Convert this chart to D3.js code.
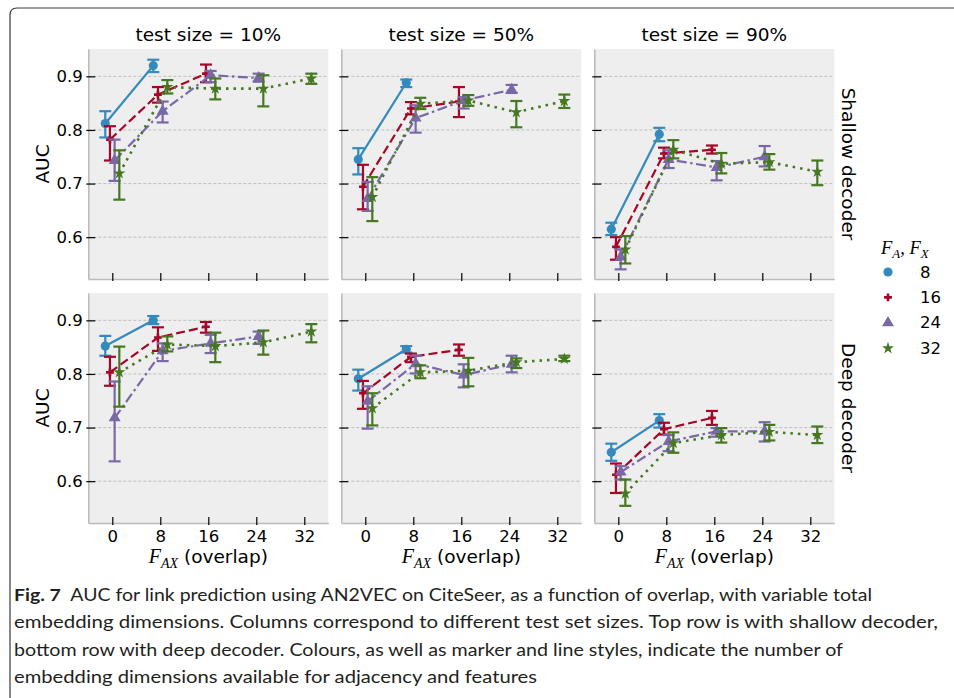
<!DOCTYPE html>
<html><head><meta charset="utf-8">
<script src="https://cdn.jsdelivr.net/npm/d3@7"></script>
<style>
body{margin:0;background:#fff;}
svg{display:block;}
</style>
</head><body>
<svg id="chart" width="954" height="698"></svg>
<script>
// ---------------- data ----------------
const overlaps = [0, 8, 16, 24, 32];
const dims = ["8", "16", "24", "32"];
const colTitles = ["test size = 10%", "test size = 50%", "test size = 90%"];
const rowTitles = ["Shallow decoder", "Deep decoder"];
const yTicks = [0.6, 0.7, 0.8, 0.9];

// one inner array per embedding dimension (8,16,24,32), values at overlaps 0,8,16,...
const shallow10Mean = [[0.812,0.920],[0.782,0.866,0.905],[0.743,0.835,0.902,0.897],[0.719,0.880,0.877,0.877,0.896]];
const shallow10Lo   = [[0.786,0.908],[0.743,0.851,0.889],[0.705,0.814,0.889,0.890],[0.670,0.868,0.857,0.844,0.886]];
const shallow10Hi   = [[0.835,0.931],[0.807,0.880,0.922],[0.782,0.853,0.910,0.905],[0.762,0.893,0.896,0.902,0.905]];

const shallow50Mean = [[0.745,0.888],[0.694,0.840,0.853],[0.672,0.822,0.855,0.875],[0.675,0.849,0.855,0.833,0.854]];
const shallow50Lo   = [[0.717,0.880],[0.652,0.829,0.824],[0.649,0.795,0.840,0.869],[0.630,0.839,0.845,0.805,0.841]];
const shallow50Hi   = [[0.766,0.894],[0.735,0.852,0.880],[0.703,0.846,0.861,0.884],[0.712,0.860,0.865,0.854,0.866]];

const shallow90Mean = [[0.615,0.792],[0.582,0.756,0.763],[0.563,0.745,0.730,0.750],[0.577,0.763,0.737,0.740,0.722]];
const shallow90Lo   = [[0.604,0.779],[0.558,0.747,0.756],[0.540,0.729,0.706,0.732],[0.551,0.747,0.719,0.726,0.697]];
const shallow90Hi   = [[0.627,0.804],[0.600,0.767,0.771],[0.577,0.762,0.742,0.770],[0.602,0.781,0.757,0.755,0.743]];

const deep10Mean = [[0.852,0.900],[0.803,0.868,0.888],[0.718,0.843,0.857,0.870],[0.803,0.855,0.852,0.859,0.879]];
const deep10Lo   = [[0.834,0.893],[0.778,0.843,0.877],[0.637,0.824,0.839,0.856],[0.739,0.842,0.822,0.836,0.859]];
const deep10Hi   = [[0.871,0.908],[0.832,0.887,0.897],[0.786,0.857,0.873,0.879],[0.851,0.870,0.877,0.881,0.893]];

const deep50Mean = [[0.791,0.846],[0.764,0.832,0.845],[0.749,0.819,0.798,0.818],[0.736,0.803,0.806,0.822,0.828]];
const deep50Lo   = [[0.769,0.840],[0.735,0.822,0.834],[0.698,0.801,0.775,0.803],[0.704,0.792,0.777,0.811,0.824]];
const deep50Hi   = [[0.808,0.852],[0.787,0.838,0.855],[0.777,0.834,0.818,0.834],[0.764,0.816,0.830,0.829,0.834]];

const deep90Mean = [[0.654,0.713],[0.612,0.697,0.718],[0.617,0.674,0.693,0.693],[0.577,0.671,0.686,0.692,0.686]];
const deep90Lo   = [[0.638,0.700],[0.578,0.687,0.705],[0.603,0.656,0.683,0.674],[0.554,0.653,0.672,0.676,0.671]];
const deep90Hi   = [[0.670,0.725],[0.633,0.709,0.731],[0.628,0.686,0.699,0.710],[0.603,0.691,0.699,0.705,0.702]];

const captionBold = "Fig. 7";
const captionLines = [
  "AUC for link prediction using AN2VEC on CiteSeer, as a function of overlap, with variable total",
  "embedding dimensions. Columns correspond to different test set sizes. Top row is with shallow decoder,",
  "bottom row with deep decoder. Colours, as well as marker and line styles, indicate the number of",
  "embedding dimensions available for adjacency and features"
];

// ---------------- styling ----------------
const colors = ["#348ABD", "#A60628", "#7A68A6", "#467821"];
const dashes = [null, "9,4", "10,3.5,2.5,3.5", "2.5,5"];
const symbols = [d3.symbolCircle, d3.symbolCross, d3.symbolTriangle, d3.symbolStar];
const symSizes = [66, 34, 62, 46];
const dodge = [-1.17, -0.39, 0.39, 1.17];

const panels = [
  [[shallow10Mean, shallow10Lo, shallow10Hi], [shallow50Mean, shallow50Lo, shallow50Hi], [shallow90Mean, shallow90Lo, shallow90Hi]],
  [[deep10Mean, deep10Lo, deep10Hi], [deep50Mean, deep50Lo, deep50Hi], [deep90Mean, deep90Lo, deep90Hi]]
];

const svg = d3.select("#chart");
const FONT = "DejaVu Sans";
const MATH = "Liberation Serif";
const colX = [88.3, 341.3, 594.3];
const rowY = [49, 293];
const PW = 240, PH = 230;

// frame
svg.append("path")
  .attr("d", "M10,705 L10,15 Q10,8 17,8 L965,8")
  .attr("fill", "none").attr("stroke", "#3a3a3a").attr("stroke-width", 1.2);

rowY.forEach((y0, r) => {
  colX.forEach((x0, c) => {
    const [meanArr, loArr, hiArr] = panels[r][c];
    const x = d3.scaleLinear().domain([-4, 36]).range([x0, x0 + PW]);
    const y = d3.scaleLinear().domain([0.522, 0.951]).range([y0 + PH, y0]);
    const g = svg.append("g");
    g.append("rect").attr("x", x0).attr("y", y0).attr("width", PW).attr("height", PH).attr("fill", "#eeeeee");
    // grid
    g.selectAll(".grid").data(yTicks).join("line")
      .attr("x1", x0).attr("x2", x0 + PW)
      .attr("y1", d => y(d)).attr("y2", d => y(d))
      .attr("stroke", "#b2b2b2").attr("stroke-width", 0.8).attr("stroke-dasharray", "3,2");

    // axes
    const xa = d3.axisBottom(x).tickValues(overlaps).tickSizeInner(-6).tickSizeOuter(0).tickPadding(7)
      .tickFormat(r === 1 ? d3.format("d") : () => "");
    const gx = g.append("g").attr("transform", `translate(0,${y0 + PH})`).call(xa);
    const ya = d3.axisLeft(y).tickValues(yTicks).tickSizeInner(-7).tickSizeOuter(0).tickPadding(5.5)
      .tickFormat(c === 0 ? d3.format(".1f") : () => "");
    const gy = g.append("g").attr("transform", `translate(${x0},0)`).call(ya);
    [gx, gy].forEach(ax => {
      ax.select(".domain").attr("stroke", "#bcbcbc").attr("stroke-width", 1.6);
      ax.selectAll(".tick line").attr("stroke", "#000").attr("stroke-width", 1.2);
      ax.selectAll("text").attr("font-family", FONT).attr("font-size", 16.5).attr("fill", "#000");
    });
    gy.selectAll(".tick line").attr("x1", -2);
    gx.selectAll(".tick line").attr("y1", 2);

    // series
    meanArr.forEach((vals, s) => {
      const pts = vals.map((v, i) => ({ px: x(overlaps[i] + dodge[s]), m: v, lo: loArr[s][i], hi: hiArr[s][i] }));
      const sg = g.append("g");
      const line = d3.line().x(d => d.px).y(d => y(d.m));
      const lp = sg.append("path").attr("d", line(pts)).attr("fill", "none")
        .attr("stroke", colors[s]).attr("stroke-width", 2.2);
      if (dashes[s]) lp.attr("stroke-dasharray", dashes[s]);
      if (s === 3) lp.attr("stroke-linecap", "butt").attr("stroke-width", 2.6);
      pts.forEach(p => {
        sg.append("line").attr("x1", p.px).attr("x2", p.px).attr("y1", y(p.lo)).attr("y2", y(p.hi))
          .attr("stroke", colors[s]).attr("stroke-width", 2.2);
        [p.lo, p.hi].forEach(v => {
          sg.append("line").attr("x1", p.px - 6).attr("x2", p.px + 6).attr("y1", y(v)).attr("y2", y(v))
            .attr("stroke", colors[s]).attr("stroke-width", 2.2);
        });
        sg.append("path").attr("d", d3.symbol().type(symbols[s]).size(symSizes[s])())
          .attr("transform", `translate(${p.px},${y(p.m)})`).attr("fill", colors[s]);
      });
    });

    // titles
    if (r === 0) {
      svg.append("text").attr("x", x0 + PW / 2).attr("y", 41).attr("text-anchor", "middle")
        .attr("font-family", FONT).attr("font-size", 18.5).attr("fill", "#000").text(colTitles[c]);
    }
    if (r === 1) {
      const t = svg.append("text").attr("x", x0 + PW / 2).attr("y", 563).attr("text-anchor", "middle")
        .attr("font-size", 18.5).attr("fill", "#000");
      t.append("tspan").attr("font-family", MATH).attr("font-style", "italic").attr("font-size", 20).text("F");
      t.append("tspan").attr("font-family", MATH).attr("font-style", "italic").attr("font-size", 14).attr("dy", 5).text("AX");
      t.append("tspan").attr("font-family", FONT).attr("dy", -5).text(" (overlap)");
    }
    if (c === 0) {
      svg.append("text").attr("transform", `translate(42,${y0 + PH / 2}) rotate(-90)`)
        .attr("text-anchor", "middle").attr("dominant-baseline", "central")
        .attr("font-family", FONT).attr("font-size", 18.5).attr("fill", "#000").text("AUC");
    }
    if (c === 2) {
      svg.append("text").attr("transform", `translate(848,${y0 + PH / 2}) rotate(90)`)
        .attr("text-anchor", "middle").attr("dominant-baseline", "central")
        .attr("font-family", FONT).attr("font-size", 18.5).attr("fill", "#000").text(rowTitles[r]);
    }
  });
});

// legend
const lt = svg.append("text").attr("x", 881).attr("y", 254).attr("fill", "#000")
  .attr("font-family", MATH).attr("font-style", "italic").attr("font-size", 18.5);
lt.append("tspan").text("F");
lt.append("tspan").attr("font-size", 13).attr("dy", 4).text("A");
lt.append("tspan").attr("dy", -4).text(",\u00a0F");
lt.append("tspan").attr("font-size", 13).attr("dy", 4).text("X");
dims.forEach((d, i) => {
  const ly = 272 + i * 25.4;
  svg.append("path").attr("d", d3.symbol().type(symbols[i]).size(symSizes[i])())
    .attr("transform", `translate(888,${ly})`).attr("fill", colors[i]);
  svg.append("text").attr("x", 920).attr("y", ly).attr("dominant-baseline", "central")
    .attr("font-family", FONT).attr("font-size", 16.5).attr("fill", "#000").text(d);
});

// caption
const capFont = "Lato";
const capY = [601, 628.3, 655.6, 682.9];
const capTargets = [872, 938, 843, 537];
const capSize = 17;
captionLines.forEach((ln, i) => {
  const t = svg.append("text").attr("x", 14).attr("y", capY[i])
    .attr("font-family", capFont).attr("font-size", capSize).attr("fill", "#231f20");
  if (i === 0) {
    t.append("tspan").attr("font-weight", "bold").text(captionBold + "\u00a0\u00a0");
  }
  t.append("tspan").text(ln);
  t.attr("textLength", capTargets[i] - 14).attr("lengthAdjust", "spacingAndGlyphs");
});
</script>
</body></html>
